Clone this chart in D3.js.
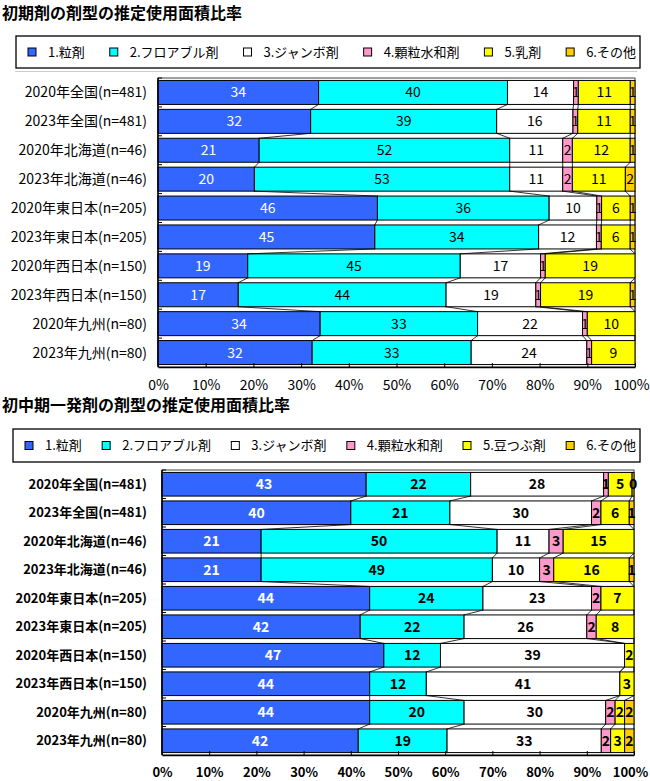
<!DOCTYPE html>
<html>
<head>
<meta charset="utf-8">
<title>剤型の推定使用面積比率</title>
<script src="https://cdn.jsdelivr.net/npm/d3@7"></script>
<style>
    body {
        margin: 0;
        padding: 0;
        background-color: #ffffff;
        font-family: "Noto Sans CJK JP", sans-serif;
    }
</style>
</head>
<body>
<div id="chart"></div>
<script>
    var categories = ["2020年全国(n=481)", "2023年全国(n=481)", "2020年北海道(n=46)", "2023年北海道(n=46)",
        "2020年東日本(n=205)", "2023年東日本(n=205)", "2020年西日本(n=150)", "2023年西日本(n=150)",
        "2020年九州(n=80)", "2023年九州(n=80)"]

    var earlyTypes = ["1.粒剤", "2.フロアブル剤", "3.ジャンボ剤", "4.顆粒水和剤", "5.乳剤", "6.その他"]
    var midTypes = ["1.粒剤", "2.フロアブル剤", "3.ジャンボ剤", "4.顆粒水和剤", "5.豆つぶ剤", "6.その他"]

    // 初期剤
    var earlyGranule = [34, 32, 21, 20, 46, 45, 19, 17, 34, 32]
    var earlyFlowable = [40, 39, 52, 53, 36, 34, 45, 44, 33, 33]
    var earlyJumbo = [14, 16, 11, 11, 10, 12, 17, 19, 22, 24]
    var earlyWdg = [1, 1, 2, 2, 1, 1, 1, 1, 1, 1]
    var earlyEmulsion = [11, 11, 12, 11, 6, 6, 19, 19, 10, 9]
    var earlyOther = [1, 1, 1, 2, 1, 1, 0, 1, 0, 0]

    // 初中期一発剤
    var midGranule = [43, 40, 21, 21, 44, 42, 47, 44, 44, 42]
    var midFlowable = [22, 21, 50, 49, 24, 22, 12, 12, 20, 19]
    var midJumbo = [28, 30, 11, 10, 23, 26, 39, 41, 30, 33]
    var midWdg = [1, 2, 3, 3, 2, 2, 0, 0, 2, 2]
    var midMameTsubu = [5, 6, 15, 16, 7, 8, 2, 3, 2, 3]
    var midOther = [0.4, 1, 0, 1, 0, 0, 0, 0, 2, 2]

    var tickValues = [0, 0.1, 0.2, 0.3, 0.4, 0.5, 0.6, 0.7, 0.8, 0.9, 1]

    var colors = ["#3366ff", "#00ffff", "#ffffff", "#ff99cc", "#ffff00", "#ffcc00"]

    var svg = d3.select("#chart")
        .append("svg")
        .attr("width", 650)
        .attr("height", 781)

    function drawChart(opt) {
        var g = svg.append("g")
        var weight = opt.bold ? "bold" : "normal"

        var table = categories.map(function (c, i) {
            var row = { cat: c }
            opt.keys.forEach(function (k, j) { row[k] = opt.series[j][i] })
            return row
        })

        var stacked = d3.stack()
            .keys(opt.keys)
            .offset(d3.stackOffsetExpand)(table)

        var color = d3.scaleOrdinal().domain(opt.keys).range(colors)

        var x = d3.scaleLinear().domain([0, 1]).range([opt.left, opt.right])
        var y = d3.scaleBand().domain(categories).range([opt.top, opt.bottom])
            .paddingInner(0.17).paddingOuter(0.085)

        // title
        g.append("text")
            .attr("x", 2)
            .attr("y", opt.titleY)
            .attr("font-size", 16)
            .attr("font-weight", "bold")
            .text(opt.title)

        // legend
        var lg = g.append("g")
        lg.append("rect")
            .attr("x", opt.legend[0])
            .attr("y", opt.legend[1])
            .attr("width", opt.legend[2] - opt.legend[0])
            .attr("height", opt.legend[3] - opt.legend[1])
            .attr("fill", "#fff")
            .attr("stroke", "#000")
            .attr("stroke-width", 1.3)
        var ly = (opt.legend[1] + opt.legend[3]) / 2
        var items = lg.selectAll("g.item")
            .data(opt.keys)
            .enter()
            .append("g")
            .attr("class", "item")
        items.append("rect")
            .attr("width", 8)
            .attr("height", 8)
            .attr("y", ly - 4)
            .attr("fill", function (d) { return color(d) })
            .attr("stroke", "#000")
        items.append("text")
            .attr("x", 20)
            .attr("y", ly)
            .attr("dy", "0.35em")
            .attr("font-size", 13)
            .text(function (d) { return d })
        var widths = []
        items.select("text").each(function () { widths.push(20 + this.getComputedTextLength()) })
        var startX = opt.legend[0] + 12
        var gap = (opt.legend[2] - 4 - startX - d3.sum(widths)) / (widths.length - 1)
        var cx = startX
        items.attr("transform", function (d, i) {
            var t = "translate(" + cx + ",0)"
            cx += widths[i] + gap
            return t
        })

        // plot frame
        g.append("rect")
            .attr("x", opt.left)
            .attr("y", opt.top)
            .attr("width", opt.right - opt.left)
            .attr("height", opt.bottom - opt.top)
            .attr("fill", "none")
            .attr("stroke", "#444")

        // bars
        var layers = g.selectAll("g.layer")
            .data(stacked)
            .enter()
            .append("g")
            .attr("class", "layer")
            .attr("fill", function (d) { return color(d.key) })

        layers.selectAll("rect")
            .data(function (d) { return d })
            .enter()
            .append("rect")
            .attr("x", function (d) { return x(d[0]) })
            .attr("y", function (d) { return y(d.data.cat) })
            .attr("width", function (d) { return x(d[1]) - x(d[0]) })
            .attr("height", y.bandwidth())
            .attr("stroke", "#000")
            .attr("stroke-width", 1)

        // series lines
        var links = []
        stacked.forEach(function (layer) {
            for (var i = 0; i < layer.length - 1; i++) {
                links.push([layer[i][1], layer[i].data.cat, layer[i + 1][1], layer[i + 1].data.cat])
            }
        })
        g.selectAll("line.series")
            .data(links)
            .enter()
            .append("line")
            .attr("class", "series")
            .attr("x1", function (d) { return x(d[0]) })
            .attr("y1", function (d) { return y(d[1]) + y.bandwidth() })
            .attr("x2", function (d) { return x(d[2]) })
            .attr("y2", function (d) { return y(d[3]) })
            .attr("stroke", "#000")
            .attr("stroke-width", 0.8)

        // value labels
        layers.selectAll("text")
            .data(function (d) {
                return d.map(function (p, i) { return { p: p, v: opt.series[opt.keys.indexOf(d.key)][i], first: d.index === 0 } })
                    .filter(function (o) { return o.v > 0 })
            })
            .enter()
            .append("text")
            .attr("x", function (d) { return x((d.p[0] + d.p[1]) / 2) })
            .attr("y", function (d) { return y(d.p.data.cat) + y.bandwidth() / 2 })
            .attr("dy", "0.36em")
            .attr("text-anchor", "middle")
            .attr("font-size", 14)
            .attr("font-weight", weight)
            .attr("fill", function (d) { return d.first ? "#fff" : "#000" })
            .text(function (d) { return Math.round(d.v) })

        // left axis
        var yAxis = g.append("g")
            .attr("transform", "translate(" + opt.left + ",0)")
        yAxis.append("line")
            .attr("y1", opt.top)
            .attr("y2", opt.bottom)
            .attr("stroke", "#000")
            .attr("stroke-width", 1.5)
        yAxis.selectAll("line.tick")
            .data(categories)
            .enter()
            .append("line")
            .attr("class", "tick")
            .attr("x2", 4)
            .attr("y1", function (d) { return y(d) - y.step() * y.paddingInner() / 2 })
            .attr("y2", function (d) { return y(d) - y.step() * y.paddingInner() / 2 })
            .attr("stroke", "#000")
        yAxis.selectAll("text")
            .data(categories)
            .enter()
            .append("text")
            .attr("x", 147 - opt.left)
            .attr("y", function (d) { return y(d) + y.bandwidth() / 2 })
            .attr("dy", "0.36em")
            .attr("text-anchor", "end")
            .attr("font-size", opt.bold ? 13 : 14)
            .attr("font-weight", weight)
            .text(function (d) { return d })

        // bottom axis
        var xAxis = g.append("g")
            .attr("transform", "translate(0," + opt.bottom + ")")
            .call(d3.axisBottom(x)
                .tickValues(tickValues)
                .tickFormat(d3.format(".0%"))
                .tickSizeInner(-4)
                .tickSizeOuter(0)
                .tickPadding(13))
        xAxis.select(".domain").attr("stroke-width", 1.5)
        xAxis.selectAll("text")
            .attr("font-size", opt.bold ? 13 : 14)
            .attr("font-weight", weight)
            .attr("font-family", "'Noto Sans CJK JP', sans-serif")
            .attr("dx", function (d) { return d === 1 ? -4 : 0 })
    }

    drawChart({
        title: "初期剤の剤型の推定使用面積比率",
        titleY: 19,
        legend: [16, 36, 640, 68],
        keys: earlyTypes,
        series: [earlyGranule, earlyFlowable, earlyJumbo, earlyWdg, earlyEmulsion, earlyOther],
        left: 158, right: 635, top: 78, bottom: 367,
        bold: false
    })

    svg.append("line")
        .attr("x1", 15).attr("x2", 637)
        .attr("y1", 71.5).attr("y2", 71.5)
        .attr("stroke", "#ccc")

    drawChart({
        title: "初中期一発剤の剤型の推定使用面積比率",
        titleY: 411,
        legend: [13, 429, 640, 462],
        keys: midTypes,
        series: [midGranule, midFlowable, midJumbo, midWdg, midMameTsubu, midOther],
        left: 162, right: 634, top: 470, bottom: 755,
        bold: true
    })
</script>
</body>
</html>
